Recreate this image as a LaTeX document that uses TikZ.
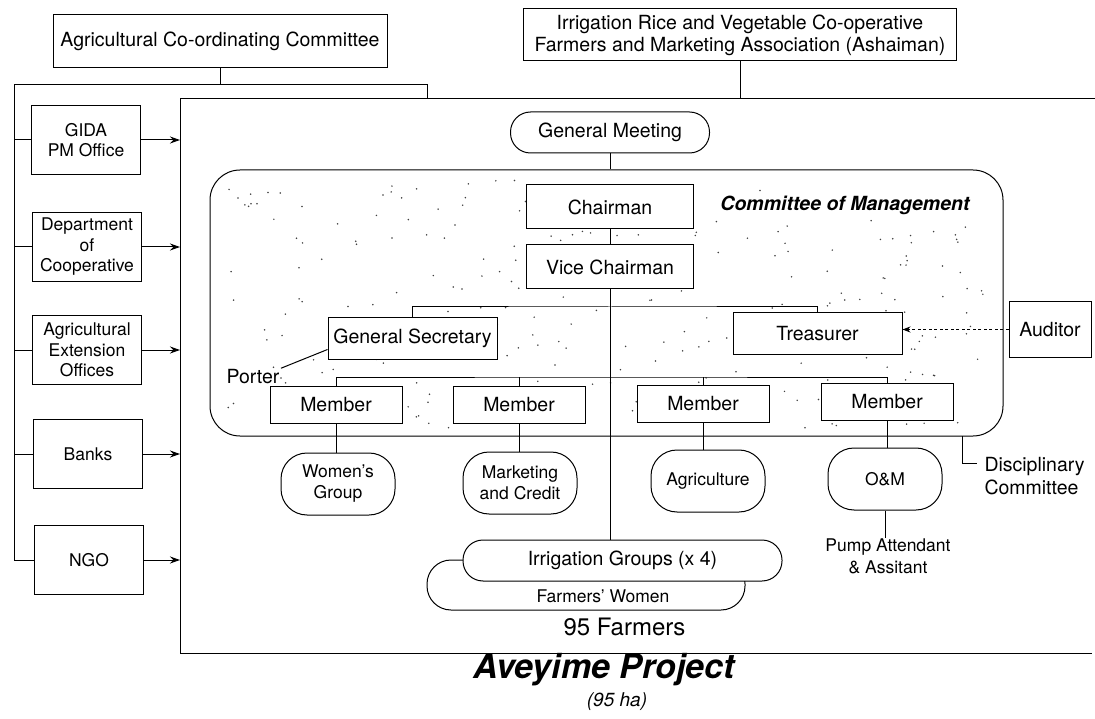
\documentclass[tikz,border=0pt]{standalone}
\usepackage{fontspec}
\setmainfont{TeX Gyre Heros}
\usetikzlibrary{arrows.meta}
\begin{document}
\begin{tikzpicture}[x=1pt,y=-1pt,
  line width=1pt,
  every node/.style={font=\fontsize{19.5}{22}\selectfont, inner sep=0pt, align=center},
  box/.style 2 args={draw, fill=white, minimum width=#1, minimum height=#2},
  lbox/.style={draw, fill=white, minimum width=109pt, minimum height=69pt,
    font=\fontsize{17.5}{20.5}\selectfont},
  pill/.style 2 args={draw, fill=white, rounded corners=#2, minimum width=#1},
  lowpill/.style={draw, fill=white, rounded corners=26pt, minimum width=114pt,
    minimum height=62pt, font=\fontsize{17.5}{21}\selectfont},
  memb/.style={draw, fill=white, minimum width=132pt, minimum height=37pt},
  feed/.style={-{Stealth[length=10pt,width=7pt]}},
  audit/.style={dash pattern=on 3pt off 2.5pt, line width=0.9pt, -{Stealth[length=8pt,width=6pt]}},
  plain/.style={fill=white, inner sep=1pt}
]
\useasboundingbox (0,0) rectangle (1095,719);

% ---- bodies above the project ----
\node[box={334pt}{53pt}] (acc) at (220,41.5) {Agricultural Co-ordinating Committee};
\node[box={433pt}{52pt}] (ira) at (740,35)
  {Irrigation Rice and Vegetable Co-operative\\Farmers and Marketing Association (Ashaiman)};

% ---- supporting institutions on the left ----
\node[lbox] (gida)  at (86,140) {GIDA\\PM Office};
\node[lbox] (dept)  at (87,247) {Department\\of\\Cooperative};
\node[lbox] (agext) at (87,350) {Agricultural\\Extension\\Offices};
\node[lbox] (banks) at (88,454) {Banks};
\node[lbox] (ngo)   at (89,560) {NGO};

% ---- project frame (open on the right) ----
\coordinate (fTL) at (180,99);
\coordinate (fBL) at (180,653);
\coordinate (fTR) at (1095,99);
\coordinate (fBR) at (1092,653);
\draw (fTR) -- (fTL) -- (fBL) -- (fBR);

% ---- committee of management ----
\node[draw, fill=white, rounded corners=30pt, minimum width=793pt, minimum height=266pt]
  (com) at (606.5,303) {};

% stippled shading inside the committee area
\pgfmathsetseed{4711}
\foreach \k in {1,...,260}{
  \pgfmathsetmacro{\px}{226+758*rnd}
  \pgfmathsetmacro{\py}{180+248*rnd}
  \fill[black!75] (\px,\py) circle[radius=0.85pt];
}

\node[font=\bfseries\itshape\fontsize{19.5}{22}\selectfont, plain] (cmt) at (845,205)
  {Committee of Management};

\node[pill={199pt}{20pt}, minimum height=41pt] (gm) at (610,132.5) {General Meeting};

\node[box={167pt}{44pt}] (chair) at (610,207) {Chairman};
\node[box={167pt}{44pt}] (vice)  at (610,267) {Vice Chairman};
\node[box={169pt}{41pt}] (gensec) at (412.5,338.5) {General Secretary};
\node[box={169pt}{41pt}] (treas)  at (817.5,333.5) {Treasurer};
\node[box={82pt}{55pt}]  (aud)    at (1050,329.5) {Auditor};
\node[plain] (porter) at (253,377) {Porter};

\node[memb] (m1) at (336,405) {Member};
\node[memb] (m2) at (519,405) {Member};
\node[memb] (m3) at (703,404) {Member};
\node[memb] (m4) at (887,402) {Member};

% ---- working groups ----
\node[lowpill] (wg)  at (338,484) {Women's\\Group};
\node[lowpill] (mc)  at (520,483) {Marketing\\and Credit};
\node[lowpill] (agr) at (708,481) {Agriculture};
\node[lowpill] (om)  at (885,479) {O\&M};

\node[font=\fontsize{17.5}{22}\selectfont] (pump) at (888,556) {Pump Attendant\\\& Assitant};
\node[anchor=west, align=left, font=\fontsize{19.5}{23}\selectfont] (disc) at (984,476)
  {Disciplinary\\Committee};

% ---- irrigation groups ----
\node[pill={318pt}{24pt}, minimum height=50pt] (fwp) at (586,585) {};
\node[font=\fontsize{17.5}{21}\selectfont] (fw) at (603,596) {Farmers' Women};
\node[pill={319pt}{20pt}, minimum height=41pt] (irr) at (622.5,560.5) {Irrigation Groups (x 4)};
\node[font=\fontsize{24}{28}\selectfont] (farmers) at (624.5,627) {95 Farmers};

% ---- project caption ----
\node[font=\bfseries\itshape\fontsize{34}{38}\selectfont] (proj) at (604,670) {Aveyime Project};
\node[font=\itshape\fontsize{19}{22}\selectfont] (area) at (617,702) {(95 ha)};

% ---- connectors: outside bodies ----
\coordinate (tl) at (14,85);
\coordinate (tr) at (427,85);
\draw (acc.south) -- (acc.south |- tl);
\draw (tl) -- (tr) -- (tr |- fTL);
\draw (ira.south) -- (ira.south |- fTL);
\draw (tl) |- (ngo.west);
\foreach \b in {gida,dept,agext,banks}{
  \draw (\b.west) -- (\b.west -| tl);
}
\foreach \b in {gida,dept,agext,banks,ngo}{
  \draw[feed] (\b.east) -- (\b.east -| fTL);
}

% ---- connectors: project organisation ----
\draw (gm.south) -- (gm.south |- com.north);
\draw (chair.south) -- (vice.north);
\draw (vice.south) -- (vice.south |- irr.north);
\coordinate (bar1) at (610,307);
\draw (gensec.north) |- (bar1) -| (treas.north);
\coordinate (bar2) at (610,377);
\draw (m1.north) |- (bar2) -| (m4.north);
\draw (m2.north) -- (m2.north |- bar2);
\draw (m3.north) -- (m3.north |- bar2);
\draw (porter.north east) -- ([yshift=-11pt]gensec.west);
\draw[audit] (aud.west) -- (aud.west -| treas.east);

\draw (m1.south) -- (m1.south |- wg.north);
\draw (m2.south) -- (m2.south |- mc.north);
\draw (m3.south) -- (m3.south |- agr.north);
\draw (m4.south) -- (m4.south |- om.north);
\draw (om.south) -- (om.south |- pump.north);

\coordinate (dtop) at (962,436);
\coordinate (dend) at (977,463);
\draw (dtop) |- (dend);
\end{tikzpicture}
\end{document}
